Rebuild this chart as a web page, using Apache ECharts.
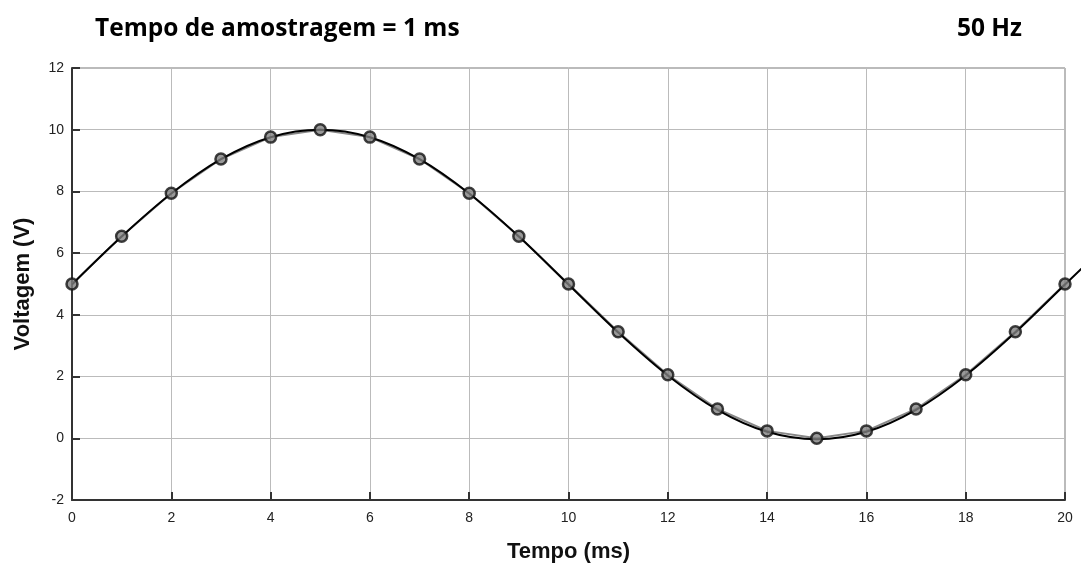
<!DOCTYPE html>
<html><head><meta charset="utf-8">
<script src="https://cdn.jsdelivr.net/npm/echarts@6/dist/echarts.min.js"></script>
<style>html,body{margin:0;padding:0;background:#fff}#c{width:1081px;height:568px}</style>
</head><body><div id="c"></div>
<script>
const sampleTimes = [0,1,2,3,4,5,6,7,8,9,10,11,12,13,14,15,16,17,18,19,20];
const sampleVolts = [5,6.55,7.94,9.05,9.76,10,9.76,9.05,7.94,6.55,5,3.45,2.06,0.95,0.24,0,0.24,0.95,2.06,3.45,5];
const extraTimes = [21];
const extraVolts = [6.55];
const xTicks = [0,2,4,6,8,10,12,14,16,18,20];
const yTicks = [-2,0,2,4,6,8,10,12];
const titleText = 'Tempo de amostragem = 1 ms';
const freqText = '50 Hz';

const pts = sampleTimes.map((t,i)=>[t,sampleVolts[i]]);
const curvePts = pts.concat(extraTimes.map((t,i)=>[t,extraVolts[i]]));

const G = {left:72,right:16,top:68,bottom:67};
const pxPerUnit = (1081 - G.left - G.right) / 20;
const extMax = 20 + G.right / pxPerUnit;

const chart = echarts.init(document.getElementById('c'));
chart.setOption({
  animation:false,
  backgroundColor:'#fff',
  title:[
    {text:titleText,left:90,top:12,textStyle:{fontFamily:'Open Sans',fontWeight:'bold',fontSize:24.5,color:'#000'}},
    {text:freqText,right:54,top:12,textStyle:{fontFamily:'Open Sans',fontWeight:'bold',fontSize:24.5,color:'#000'}}
  ],
  grid:[
    {left:G.left,right:G.right,top:G.top,bottom:G.bottom,show:true,borderColor:'#777',borderWidth:1},
    {left:G.left,right:0,top:G.top,bottom:G.bottom,show:false}
  ],
  xAxis:[{type:'value',min:0,max:20,interval:2,gridIndex:0,
    name:'Tempo (ms)',nameLocation:'middle',nameGap:41,
    nameTextStyle:{fontFamily:'Liberation Sans',fontWeight:'bold',fontSize:22,color:'#111'},
    axisLine:{show:true,onZero:false,lineStyle:{color:'#333',width:2}},
    axisTick:{show:true,inside:true,length:8,lineStyle:{color:'#333',width:2}},
    axisLabel:{fontFamily:'Liberation Sans',fontSize:14,color:'#222',margin:11},
    splitLine:{show:true,lineStyle:{color:'#bbb',width:1}}
  },{type:'value',min:0,max:extMax,gridIndex:1,show:false,splitLine:{show:false}}],
  yAxis:[{type:'value',min:-2,max:12,interval:2,gridIndex:0,
    name:'Voltagem (V)',nameLocation:'middle',nameGap:38,
    nameTextStyle:{fontFamily:'Liberation Sans',fontWeight:'bold',fontSize:22,color:'#111'},
    axisLine:{show:true,onZero:false,lineStyle:{color:'#333',width:2}},
    axisTick:{show:true,inside:true,length:8,lineStyle:{color:'#333',width:2}},
    axisLabel:{fontFamily:'Liberation Sans',fontSize:14,color:'#222',margin:8},
    splitLine:{show:true,lineStyle:{color:'#bbb',width:1}}
  },{type:'value',min:-2,max:12,gridIndex:1,show:false,splitLine:{show:false}}],
  series:[
    {type:'line',data:pts,symbol:'none',lineStyle:{color:'#888',width:2},z:2,silent:true},
    {type:'line',data:curvePts,xAxisIndex:1,yAxisIndex:1,smooth:0.35,symbol:'none',lineStyle:{color:'#000',width:2},z:3,silent:true},
    {type:'scatter',data:pts,symbol:'circle',symbolSize:11,itemStyle:{color:'#7f7f7f',borderColor:'#111',borderWidth:2.5},z:4,silent:true}
  ]
});
</script></body></html>
